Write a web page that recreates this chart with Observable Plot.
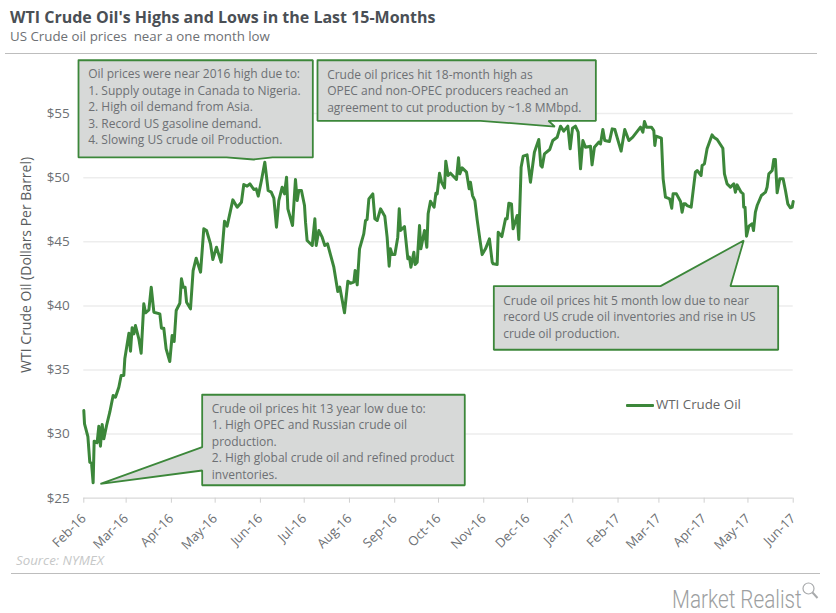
<!DOCTYPE html>
<html><head><meta charset="utf-8">
<script src="https://cdn.jsdelivr.net/npm/d3@7"></script>
<script src="https://cdn.jsdelivr.net/npm/@observablehq/plot@0.6"></script>
<style>
html,body{margin:0;padding:0;background:#fff;width:836px;height:613px;overflow:hidden;font-family:"Open Sans",sans-serif}
.abs{position:absolute;white-space:nowrap}
#chart{position:absolute;left:0;top:54px}
</style></head><body>
<div class="abs" style="left:10px;top:5px;font-size:16px;font-weight:700;color:#4a4f55;line-height:24px">WTI Crude Oil's Highs and Lows in the Last 15-Months</div>
<div class="abs" style="left:10px;top:26px;font-size:13.3px;color:#6d7074;line-height:20px;white-space:pre">US Crude oil prices  near a one month low</div>
<div class="abs" style="left:5px;top:53px;width:812px;height:1px;background:#bdbdbd"></div>
<div id="chart"></div>
<div class="abs" style="left:16px;top:551px;font-size:13.3px;font-style:italic;color:#c6c8c8;line-height:18px">Source: NYMEX</div>
<div class="abs" style="left:11px;top:573px;width:809px;height:1px;background:#bdbdbd"></div>
<div class="abs" style="left:626px;top:404px;width:28px;height:3px;background:#3c873a;border-radius:1px"></div>
<div class="abs" style="left:656px;top:395px;font-size:13.3px;color:#666;line-height:18px">WTI Crude Oil</div>
<div class="abs" style="left:672px;top:588px;font-family:Roboto,sans-serif;font-weight:300;font-size:23px;color:#9d9fa1;line-height:24px;transform:scale(.9,1.1);transform-origin:left">Market Realist</div>
<svg class="abs" style="left:801px;top:581px" width="20" height="20"><circle cx="7.5" cy="7.5" r="5.5" fill="none" stroke="#a8aaac" stroke-width="1.2"/><path d="M11.5 11.5L16.5 17" stroke="#a8aaac" stroke-width="2"/></svg>
<script>
// Daily WTI price: days since 1 Feb 2016, and dollars per barrel
const days = [
0,0.5,2.8,4.1,5.3,6.4,7.1,9.1,10.3,11.4,12.6,13.7,15.6,17.8,20.1,21.7,24,25.6,27.4,28.1,30.9,32,33.1,34.3,35.4,37.7,39.3,41.1,42.3,44.6,46.2,48,52.1,53.2,54.8,56.4,58.9,60.5,61.9,63.3,65.8,
66.9,68.1,69.4,70.4,73.1,74.9,77,80,82.2,84.1,86.8,88.4,90.9,94.1,96.4,98.2,102.1,105.1,108,109.6,111.9,113.8,116.5,118.1,119.5,121.7,124,126.3,128.4,130.2,132,133.6,135.9,137.5,138.9,139.8,143,145,146.2,147.3,149.1,151.2,151.9,153,156.5,158.3,159.2,161,163.3,165.1,167,171.3,174,175.4,178.6,
180.9,182.7,185,185.9,187.3,188.9,191.8,193,194.1,195.3,198,199.4,201,203.3,206.2,207.8,209.2,210.1,211.3,213.1,215.1,216.1,217,219.7,222,223.1,224.1,226.1,227,228.4,230,230.9,233.4,235,235.9,237.5,240,241.2,242.1,243.7,245.1,247.1,248,249.6,251.2,255.3,256.7,257.6,259.2,262.2,264,264.9,266.3,267.9,269.5,271.3,272.9,275.2,277.9,279.8,280.5,283.2,283.9,286.4,288.9,290,291.2,293,
294.1,296.9,298,299.6,301,303.7,306,308.7,311.7,313.1,314,315.6,319.2,321.3,324.3,326.6,328.8,331.6,333.2,334.8,336.8,338.7,340.3,341.9,343.7,347.1,348.2,349.8,352.8,354,355.6,356.9,360.1,362,363.8,368.1,370.6,373.4,376.1,381.4,383,384.1,385.5,388.9,
390.5,391.2,392.1,395.7,396.9,398.5,401.4,402.8,403.7,406,408.8,409.9,411,412.2,413.3,416.1,419,420.2,422.9,423.6,425.2,427,430.4,431.6,433.9,437.8,438.9,440.7,443,445.3,446.4,447.6,450.3,451.7,452.1,453,454,455.6,457.9,458.8,460.1,461.3,464.2,467,468.1,469.3,471.6,472.7,473.8,475,476.8,479.1,480.7,482.3,484.1,485.3,486];
const prices = [
31.84,30.8,29.81,27.81,27.73,26.2,29.45,29.32,30.62,29.06,30.75,29.63,30.67,31.71,33.01,32.88,33.66,34.57,34.57,35.87,37.87,36.47,38.29,37.82,38.47,37.43,36.31,40.16,39.46,39.69,41.46,39.51,39.38,38.26,38.26,36.65,35.66,37.69,37.22,39.64,40.21,
42.11,41.46,41.46,40.29,39.77,42.76,43.72,42.63,46.01,45.88,44.84,43.62,44.58,43.41,46.61,46.22,48.27,47.7,48.09,49.47,49.34,49.52,49.08,49.13,48.56,49.78,51.21,49,48.87,48.4,46.14,48.22,49.26,48.74,50.04,47.57,46.27,49.86,48.22,49,49,47.83,46.53,45.1,44.71,46.79,44.71,45.88,45.36,44.71,44.84,43.02,41.12,41.46,39.46,
41.93,41.77,41.85,42.76,41.64,44.45,45.62,46.66,46.74,48.35,48.74,46.79,46.66,47.57,47,45.36,43.1,44.45,44,44,45.36,47.57,45.88,46.19,43.67,43.8,43.02,44.19,43.23,43.41,46.27,44.45,45.88,44.58,47.18,48.17,47.7,48.79,48.74,50.35,49.65,49.21,51.29,50.17,50.35,49.86,51.55,50.3,50.77,50.43,49.13,49.65,48.61,48.22,46.71,45.23,44,44.45,45.23,43.41,43.28,43.23,45.75,45.41,46.79,46.79,48.01,47.96,
46.01,47.05,45.18,50.82,51.68,51.78,49.65,51.99,52.98,50.95,50.82,51.86,52.2,52.9,53.16,54.02,53.63,54.02,52.25,53.86,54.02,53.55,50.69,52.9,52.38,52.46,51,52.38,52.77,52.64,53.76,52.9,52.82,53.81,53.76,52.07,53.76,52.9,53.16,53.94,53.55,54.38,53.94,53.94,
53.68,52.51,53.24,53.08,49.91,48.48,48.35,47.62,48.74,48.74,48.14,47.31,47.96,47.96,47.83,47.7,50.43,50.56,50.17,50.95,51.08,52.25,53.34,53.16,52.98,52.3,50.3,49.52,49.26,49.52,48.87,49.44,48.87,48.74,47.7,47.7,45.44,46.22,46.4,45.88,47.31,47.83,48.61,48.87,49.26,50.3,50.56,51.42,51.42,48.82,49.91,49.91,49,47.96,47.65,47.7,48.14];

const monthLabels = ["Feb-16","Mar-16","Apr-16","May-16","Jun-16","Jul-16","Aug-16","Sep-16","Oct-16","Nov-16","Dec-16","Jan-17","Feb-17","Mar-17","Apr-17","May-17","Jun-17"];
const priceTicks = [25,30,35,40,45,50,55];

// Callouts, in the chart's own units: [days since 1 Feb 2016, price]
const noteHigh2016 = [[-3.63,59.16],[156.9,59.16],[156.9,51.58],[129.3,51.58],[116.3,51.42],[97.8,51.58],[-3.63,51.58],[-3.63,59.16]];
const noteHigh18m = [[160.1,59.16],[350.8,59.16],[350.8,54.44],[318.3,54.44],[322.7,53.99],[271.8,54.44],[160.1,54.44],[160.1,59.16]];
const noteLow5m = [[280.9,41.54],[395.1,41.54],[452.1,45.1],[443,41.54],[475.7,41.54],[475.7,36.58],[280.9,36.58],[280.9,41.54]];
const noteLow13y = [[81.1,33.07],[261,33.07],[261,26.01],[81.1,26.01],[81.1,27.16],[11.4,26.12],[81.1,28.98],[81.1,33.07]];
const noteTexts = [
 {d:3, p:55.61, t:"Oil prices were near 2016 high due to:\n1. Supply outage in Canada to Nigeria.\n2. High oil demand from Asia.\n3. Record US gasoline demand.\n4. Slowing US crude oil Production."},
 {d:166.7, p:56.86, t:"Crude oil prices hit 18-month high as\nOPEC and non-OPEC producers reached an\nagreement to cut production by ~1.8 MMbpd."},
 {d:287.3, p:39.23, t:"Crude oil prices hit 5 month low due to near\nrecord US crude oil inventories and rise in US\ncrude oil production."},
 {d:87.7, p:29.5, t:"Crude oil prices hit 13 year low due to:\n1. High OPEC and Russian crude oil\nproduction.\n2. High global crude oil and refined product\ninventories."}
];

const t0 = Date.UTC(2016,1,1);
const toDate = d => new Date(t0 + d*864e5);
const series = days.map((d,i)=>({date:toDate(d), price:prices[i]}));
const parseMonth = d3.utcParse("%b-%y");
const green = "#3c873a";
const callout = pts => Plot.line(pts,{x:d=>toDate(d[0]),y:d=>d[1],fill:"#d7d9d8",stroke:green,strokeWidth:1.8,strokeLinejoin:"miter"});

const chart = Plot.plot({
  width:836, height:559,
  marginLeft:83.3, marginRight:43.3, marginTop:59.1, marginBottom:115.3,
  style:{background:"transparent",fontFamily:'"Open Sans",sans-serif',overflow:"visible"},
  x:{type:"utc",domain:[parseMonth("Feb-16"),parseMonth("Jun-17")]},
  y:{domain:[25,55]},
  marks:[
    Plot.ruleY(priceTicks.slice(1),{stroke:"#ededed",strokeWidth:1.5}),
    Plot.ruleY([25],{stroke:"#d9d9d9",strokeWidth:1.2}),
    Plot.axisX({ticks:monthLabels.map(parseMonth),tickFormat:d3.utcFormat("%b-%y"),tickRotate:-45,tickSize:5,tickPadding:13,stroke:"#d0d0d0",color:"#6d7074",fontSize:13,label:null}),
    Plot.axisY({ticks:priceTicks,tickFormat:d=>"$"+d,tickSize:0,tickPadding:14,color:"#6d7074",fontSize:13.5,label:null}),
    Plot.line(series,{x:"date",y:"price",stroke:green,strokeWidth:3,strokeLinejoin:"round"}),
    callout(noteHigh2016),callout(noteHigh18m),callout(noteLow5m),callout(noteLow13y),
    Plot.text(noteTexts,{x:d=>toDate(d.d),y:"p",text:"t",textAnchor:"start",lineAnchor:"middle",lineHeight:1.38,fontSize:12,fill:"#6d7074"}),
    Plot.text(["WTI Crude Oil (Dollars Per Barrel)"],{x:()=>toDate(-39.3),y:()=>43.2,rotate:-90,textAnchor:"middle",fontSize:14,fill:"#5a5d60"})
  ]
});
document.getElementById("chart").append(chart);
</script>
</body></html>
